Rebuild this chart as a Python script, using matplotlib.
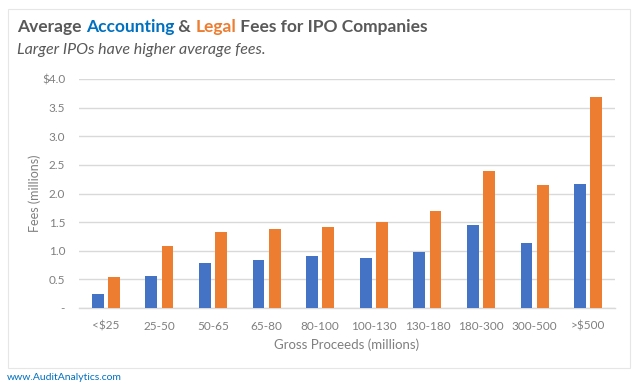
import numpy as np
import matplotlib.pyplot as plt
from matplotlib.patches import Rectangle

categories = ["<$25", "25-50", "50-65", "65-80", "80-100", "100-130",
              "130-180", "180-300", "300-500", ">$500"]
accounting = [0.25, 0.56, 0.79, 0.84, 0.91, 0.87, 0.97, 1.45, 1.14, 2.17]
legal = [0.55, 1.08, 1.32, 1.38, 1.41, 1.51, 1.70, 2.40, 2.15, 3.68]
y_ticks = [0, 0.5, 1.0, 1.5, 2.0, 2.5, 3.0, 3.5, 4.0]
y_tick_labels = ["-", "0.5", "1.0", "1.5", "2.0", "2.5", "3.0", "3.5", "$4.0"]

BLUE = "#4472C4"
ORANGE = "#ED7D31"
GRAY = "#7F7F7F"
FONT = "Lato"

fig = plt.figure(figsize=(6.4, 3.87), dpi=100)
fig.patch.set_facecolor("white")

# light frame around the chart area
fig.patches.append(Rectangle((8 / 640, 1 - 368 / 387), 622 / 640, 359 / 387,
                             transform=fig.transFigure, fill=False,
                             edgecolor="#E6E6E6", linewidth=0.8))

ax = fig.add_axes([79 / 640, 1 - 308 / 387, 536 / 640, 229 / 387])
x = np.arange(len(categories))
w = 0.22
ax.bar(x - 0.15, accounting, w, color=BLUE, zorder=3)
ax.bar(x + 0.15, legal, w, color=ORANGE, zorder=3)

ax.set_xlim(-0.5, len(categories) - 0.5)
ax.set_ylim(0, 4.0)
ax.set_yticks(y_ticks)
ax.set_yticklabels(y_tick_labels)
ax.set_xticks(x)
ax.set_xticklabels(categories)
ax.yaxis.grid(True, color="#D9D9D9", linewidth=1.0, zorder=0)
for s in ["top", "right", "left"]:
    ax.spines[s].set_visible(False)
ax.spines["bottom"].set_color("#D9D9D9")
ax.spines["bottom"].set_linewidth(1.0)
ax.tick_params(length=0, colors=GRAY, labelsize=8.5, pad=9)
ax.tick_params(axis="y", pad=10)
for lab in ax.get_xticklabels() + ax.get_yticklabels():
    lab.set_family(FONT)
    lab.set_color(GRAY)
ax.set_xlabel("Gross Proceeds (millions)", fontsize=9.5, color=GRAY,
              family=FONT, labelpad=5)
ax.set_ylabel("Fees (millions)", fontsize=9, color=GRAY, family=FONT)
ax.yaxis.set_label_coords(-44 / 536, 0.5)
ax.yaxis.label.set_va("center")

# multi-coloured title
pieces = [("Average ", "#595959"), ("Accounting", "#0070C0"),
          (" & ", "#595959"), ("Legal", ORANGE),
          (" Fees for IPO Companies", "#595959")]
fig.canvas.draw()
renderer = fig.canvas.get_renderer()
xpos = 17 / 640
for txt, col in pieces:
    t = fig.text(xpos, 1 - 27 / 387, txt, fontsize=12.5, fontweight="bold",
                 color=col, family=FONT, va="center", ha="left")
    bb = t.get_window_extent(renderer=renderer)
    xpos += bb.width / fig.bbox.width

fig.text(17 / 640, 1 - 50 / 387, "Larger IPOs have higher average fees.",
         fontsize=11.5, style="italic", color="#595959", family=FONT,
         va="center", ha="left")
fig.text(7 / 640, 1 - 378 / 387, "www.AuditAnalytics.com", fontsize=7.5,
         color="#0070C0", family=FONT, va="center", ha="left")

fig.savefig("out.png", dpi=100)
